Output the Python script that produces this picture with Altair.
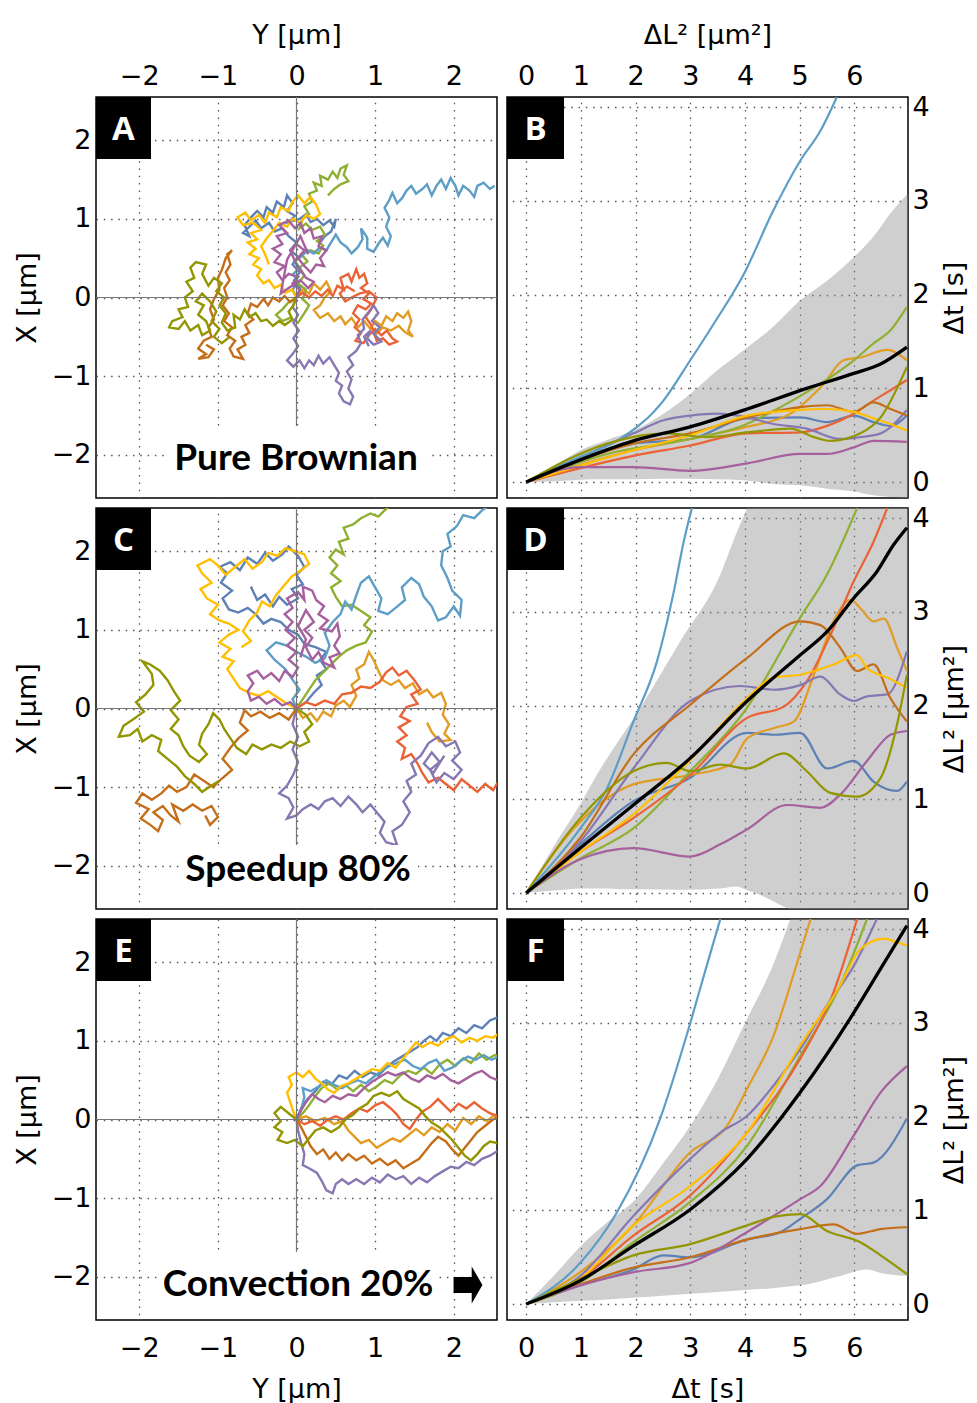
import altair as alt
import pandas as pd

# ---------------- colours (series keys) ----------------
KEYS = ["c1", "c2", "c3", "c4", "c5", "c6", "c7", "c8", "c9", "c10", "mean"]
COLORS = ["#5E81B5", "#E19C24", "#8FB032", "#EB6235", "#8778B3", "#C56E1A",
          "#5D9EC7", "#FFBF00", "#A5609D", "#929600", "#000000"]

# ---------------- tick labels ----------------
L_TICKS = [-2, -1, 0, 1, 2]
R_XTICKS = [0, 1, 2, 3, 4, 5, 6]
R_YTICKS = [0, 1, 2, 3, 4]

# ---------------- Panel A trajectories (Y, X) in µm ----------------
A_c1 = [(0,0),(0.05,0.12),(-0.03,0.22),(0.04,0.32),(-0.05,0.42),(0.02,0.52),(-0.08,0.6),(0.0,0.7),(-0.1,0.78),(-0.18,0.88),(-0.28,0.84),(-0.35,0.95),(-0.45,0.88),(-0.52,0.98),(-0.6,0.9),(-0.68,0.82),(-0.6,0.78),(-0.66,0.92),(-0.58,1.02),(-0.5,1.1),(-0.42,1.02),(-0.38,1.15),(-0.3,1.08),(-0.25,1.22),(-0.16,1.15),(-0.12,1.3),(-0.05,1.2),(-0.12,1.1),(-0.02,1.04),(-0.1,0.96),(0.04,1.0),(0.12,1.06),(0.18,0.96),(0.26,1.0),(0.34,0.92),(0.42,0.98),(0.48,0.9),(0.5,1.0),(0.44,0.84),(0.36,0.78),(0.3,0.7)]
A_c2 = [(0,0),(0.08,0.1),(0.16,0.05),(0.22,0.18),(0.3,0.1),(0.38,0.2),(0.44,0.08),(0.36,0.0),(0.3,-0.1),(0.22,-0.16),(0.3,-0.26),(0.4,-0.2),(0.48,-0.3),(0.56,-0.24),(0.62,-0.34),(0.7,-0.26),(0.78,-0.38),(0.86,-0.3),(0.94,-0.4),(1.0,-0.3),(1.08,-0.36),(1.14,-0.24),(1.22,-0.3),(1.28,-0.2),(1.36,-0.26),(1.42,-0.18),(1.46,-0.3),(1.42,-0.42),(1.48,-0.5),(1.38,-0.44),(1.3,-0.36),(1.2,-0.42),(1.1,-0.38),(1.02,-0.46),(0.94,-0.38)]
A_c3 = [(0,0),(-0.1,-0.06),(-0.18,-0.15),(-0.26,-0.22),(-0.18,-0.3),(-0.08,-0.26),(0.02,-0.32),(0.1,-0.2),(0.16,-0.1),(0.08,-0.02),(0.12,0.1),(0.02,0.18),(0.1,0.28),(0.04,0.38),(0.14,0.46),(0.06,0.55),(0.18,0.6),(0.28,0.56),(0.34,0.66),(0.26,0.72),(0.36,0.8),(0.3,0.9),(0.2,0.86),(0.12,0.94),(0.04,0.88),(0.08,1.0),(0.16,1.06),(0.1,1.16),(0.2,1.22),(0.16,1.32),(0.26,1.36),(0.22,1.46),(0.32,1.42),(0.3,1.55),(0.4,1.5),(0.46,1.6),(0.52,1.52),(0.56,1.64),(0.64,1.68),(0.6,1.56),(0.66,1.48),(0.56,1.44),(0.48,1.38),(0.4,1.3)]
A_c4 = [(0,0),(0.08,0.06),(0.16,0.0),(0.24,0.08),(0.32,0.02),(0.4,0.1),(0.46,0.02),(0.52,0.15),(0.6,0.1),(0.56,0.25),(0.66,0.3),(0.7,0.2),(0.76,0.36),(0.8,0.25),(0.86,0.3),(0.9,0.18),(0.82,0.12),(0.92,0.05),(0.85,-0.02),(0.95,-0.08),(0.88,-0.15),(0.78,-0.1),(0.72,-0.2),(0.8,-0.28),(0.74,-0.38),(0.82,-0.45),(0.75,-0.55),(0.85,-0.58),(0.92,-0.48),(1.0,-0.4),(1.08,-0.48),(1.15,-0.42),(1.22,-0.52),(1.28,-0.56),(1.18,-0.6),(1.1,-0.52),(1.02,-0.55),(0.95,-0.35),(0.88,-0.25),(0.95,-0.15),(1.02,0.0),(0.92,0.08),(0.8,0.05),(0.7,0.0),(0.62,-0.05),(0.55,0.05),(0.64,0.14),(0.74,0.08)]
A_c5 = [(0,0),(-0.05,-0.12),(0.02,-0.22),(-0.04,-0.32),(0.03,-0.42),(-0.04,-0.52),(0.02,-0.62),(-0.05,-0.72),(-0.12,-0.8),(-0.04,-0.88),(0.04,-0.8),(0.1,-0.9),(0.16,-0.8),(0.22,-0.86),(0.28,-0.74),(0.34,-0.84),(0.42,-0.76),(0.48,-0.86),(0.54,-0.96),(0.5,-1.06),(0.58,-1.12),(0.54,-1.22),(0.6,-1.32),(0.68,-1.36),(0.72,-1.26),(0.66,-1.16),(0.7,-1.04),(0.64,-0.94),(0.72,-0.86),(0.66,-0.76),(0.76,-0.68),(0.82,-0.58),(0.78,-0.48),(0.86,-0.4),(0.84,-0.28),(0.92,-0.18),(0.98,-0.1),(1.04,-0.2),(0.96,-0.3),(1.06,-0.38),(0.98,-0.46),(1.08,-0.56),(0.98,-0.6),(0.9,-0.52),(0.94,-0.42),(0.86,-0.5),(0.92,-0.62)]
A_c6 = [(0,0),(-0.08,-0.06),(-0.15,0.02),(-0.22,-0.05),(-0.3,0.0),(-0.36,-0.1),(-0.42,-0.02),(-0.5,-0.12),(-0.58,-0.08),(-0.62,-0.2),(-0.55,-0.28),(-0.65,-0.35),(-0.6,-0.45),(-0.7,-0.5),(-0.65,-0.6),(-0.75,-0.66),(-0.68,-0.78),(-0.8,-0.75),(-0.85,-0.65),(-0.78,-0.55),(-0.88,-0.48),(-0.82,-0.38),(-0.92,-0.3),(-0.86,-0.2),(-0.94,-0.1),(-0.88,0.0),(-0.92,0.12),(-0.85,0.22),(-0.9,0.32),(-0.84,0.42),(-0.88,0.55),(-0.82,0.6),(-0.9,0.5),(-0.95,0.35),(-1.0,0.25),(-0.98,0.1),(-1.05,-0.02),(-1.1,-0.15),(-1.05,-0.28),(-1.12,-0.38),(-1.08,-0.5),(-1.18,-0.55),(-1.25,-0.65),(-1.15,-0.72),(-1.25,-0.78),(-1.12,-0.76),(-1.05,-0.66),(-1.15,-0.6)]
A_c7 = [(0,0),(-0.05,0.1),(0.02,0.2),(-0.04,0.3),(0.04,0.38),(-0.03,0.46),(0.06,0.52),(0.14,0.6),(0.22,0.56),(0.3,0.64),(0.38,0.6),(0.44,0.7),(0.5,0.8),(0.56,0.7),(0.64,0.64),(0.7,0.56),(0.78,0.64),(0.84,0.74),(0.82,0.88),(0.9,0.76),(0.9,0.62),(0.98,0.58),(1.04,0.68),(1.1,0.76),(1.16,0.66),(1.2,0.78),(1.14,0.9),(1.18,1.02),(1.12,1.14),(1.18,1.24),(1.22,1.33),(1.28,1.2),(1.34,1.26),(1.4,1.36),(1.46,1.42),(1.52,1.32),(1.6,1.38),(1.66,1.44),(1.72,1.3),(1.78,1.42),(1.84,1.5),(1.9,1.38),(1.96,1.52),(2.02,1.42),(2.06,1.3),(2.12,1.42),(2.2,1.36),(2.26,1.28),(2.3,1.42),(2.38,1.46),(2.46,1.38),(2.52,1.42)]
A_c8 = [(0,0),(-0.06,0.1),(-0.14,0.06),(-0.2,0.16),(-0.28,0.12),(-0.35,0.22),(-0.42,0.18),(-0.5,0.28),(-0.45,0.36),(-0.55,0.42),(-0.48,0.5),(-0.6,0.55),(-0.52,0.62),(-0.62,0.7),(-0.5,0.74),(-0.58,0.82),(-0.45,0.86),(-0.55,0.95),(-0.68,0.92),(-0.75,1.02),(-0.65,1.08),(-0.58,0.98),(-0.48,1.05),(-0.4,0.95),(-0.35,1.08),(-0.25,1.02),(-0.2,1.15),(-0.1,1.1),(-0.05,1.22),(0.02,1.3),(0.1,1.2),(0.18,1.28),(0.25,1.18),(0.3,1.06),(0.22,1.0),(0.12,1.05),(0.05,0.95),(-0.05,1.0),(-0.12,0.9),(-0.22,0.95),(-0.3,0.85),(-0.38,0.75),(-0.45,0.65),(-0.4,0.55),(-0.35,0.42)]
A_c9 = [(0,0),(0.04,0.1),(-0.05,0.18),(0.02,0.26),(-0.1,0.3),(-0.18,0.22),(-0.25,0.32),(-0.15,0.4),(-0.28,0.45),(-0.2,0.55),(-0.3,0.62),(-0.18,0.68),(-0.25,0.78),(-0.12,0.82),(-0.22,0.92),(-0.1,0.98),(-0.02,0.88),(0.05,0.95),(0.1,0.82),(0.18,0.88),(0.22,0.75),(0.32,0.78),(0.28,0.65),(0.38,0.6),(0.3,0.5),(0.35,0.4),(0.25,0.42),(0.18,0.32),(0.1,0.4),(0.02,0.5),(0.1,0.6),(0.0,0.68),(-0.08,0.6),(0.0,0.42),(0.12,0.25),(0.22,0.2),(0.15,0.12),(0.05,0.22),(-0.1,0.12),(-0.2,0.05),(-0.12,0.48),(0.05,0.78),(0.15,0.55)]
A_c10 = [(0,0),(-0.04,-0.1),(-0.1,-0.18),(-0.05,-0.28),(-0.15,-0.35),(-0.22,-0.3),(-0.3,-0.36),(-0.38,-0.28),(-0.45,-0.3),(-0.52,-0.2),(-0.6,-0.25),(-0.66,-0.15),(-0.72,-0.28),(-0.8,-0.22),(-0.78,-0.38),(-0.88,-0.42),(-0.95,-0.32),(-0.9,-0.2),(-0.98,-0.1),(-0.92,0.0),(-1.02,0.08),(-0.95,0.18),(-1.05,0.25),(-1.12,0.15),(-1.2,0.3),(-1.15,0.42),(-1.28,0.45),(-1.35,0.38),(-1.3,0.25),(-1.4,0.2),(-1.32,0.08),(-1.42,0.0),(-1.38,-0.12),(-1.5,-0.15),(-1.45,-0.25),(-1.58,-0.3),(-1.62,-0.38),(-1.5,-0.4),(-1.42,-0.3),(-1.35,-0.42),(-1.25,-0.35),(-1.2,-0.48),(-1.1,-0.42),(-1.15,-0.3),(-1.25,-0.22),(-1.18,-0.1),(-1.28,-0.05),(-1.2,0.05),(-1.1,-0.05),(-1.02,-0.18),(-1.08,-0.3),(-0.98,-0.4),(-1.05,-0.5),(-0.95,-0.58),(-0.85,-0.5)]

# ---------------- Panel C trajectories ----------------
C_c1 = [(0,0),(0.12,0.08),(0.22,0.2),(0.32,0.3),(0.26,0.42),(0.38,0.5),(0.3,0.62),(0.38,0.72),(0.24,0.78),(0.1,0.82),(0.02,0.94),(-0.1,1.0),(-0.2,1.1),(-0.32,1.14),(-0.42,1.08),(-0.52,1.2),(-0.62,1.28),(-0.74,1.22),(-0.86,1.26),(-0.94,1.4),(-0.82,1.5),(-0.96,1.6),(-0.88,1.72),(-0.98,1.8),(-0.84,1.86),(-0.72,1.76),(-0.62,1.92),(-0.5,1.84),(-0.4,1.98),(-0.3,1.88),(-0.18,1.96),(-0.1,2.06),(0.02,1.94),(0.1,1.8),(0.0,1.7),(0.08,1.58),(-0.06,1.52),(0.02,1.4),(-0.12,1.32),(-0.22,1.42),(-0.3,1.3),(-0.4,1.45),(-0.5,1.38),(-0.58,1.55)]
C_c2 = [(0,0),(0.08,-0.12),(0.18,-0.06),(0.26,-0.16),(0.34,-0.04),(0.44,-0.1),(0.5,0.04),(0.6,0.1),(0.68,0.02),(0.76,0.16),(0.7,0.3),(0.8,0.38),(0.76,0.5),(0.86,0.56),(0.92,0.72),(0.98,0.62),(1.04,0.48),(1.1,0.36),(1.2,0.3),(1.3,0.36),(1.38,0.26),(1.48,0.32),(1.56,0.18),(1.66,0.24),(1.74,0.14),(1.84,0.2),(1.9,0.06),(1.86,-0.08),(1.94,-0.2),(1.88,-0.32),(1.96,-0.4),(1.82,-0.42),(1.72,-0.3),(1.66,-0.18)]
C_c3 = [(0,0),(0.08,0.12),(0.16,0.24),(0.24,0.36),(0.34,0.46),(0.44,0.56),(0.54,0.66),(0.64,0.74),(0.76,0.8),(0.88,0.84),(0.96,0.98),(0.86,1.06),(0.94,1.16),(0.82,1.24),(0.7,1.32),(0.58,1.3),(0.5,1.42),(0.44,1.54),(0.56,1.62),(0.44,1.72),(0.52,1.82),(0.42,1.92),(0.5,2.02),(0.6,1.96),(0.54,2.12),(0.66,2.16),(0.6,2.3),(0.72,2.34),(0.82,2.42),(0.94,2.48),(1.04,2.44),(1.12,2.52),(1.22,2.6)]
C_c4 = [(0,0),(0.12,0.08),(0.24,0.04),(0.36,0.1),(0.48,0.06),(0.58,0.18),(0.7,0.2),(0.82,0.28),(0.94,0.26),(1.06,0.34),(1.14,0.46),(1.22,0.52),(1.3,0.42),(1.4,0.48),(1.5,0.36),(1.58,0.24),(1.46,0.18),(1.54,0.06),(1.4,0.02),(1.32,-0.1),(1.44,-0.16),(1.3,-0.24),(1.4,-0.34),(1.28,-0.42),(1.38,-0.5),(1.34,-0.64),(1.46,-0.58),(1.54,-0.7),(1.6,-0.82),(1.68,-0.94),(1.8,-0.88),(1.9,-0.96),(2.0,-1.04),(2.1,-0.9),(2.2,-0.98),(2.3,-1.06),(2.4,-0.96),(2.5,-1.04),(2.56,-0.94)]
C_c5 = [(0,0),(-0.05,-0.2),(0.02,-0.36),(-0.05,-0.52),(0.02,-0.68),(-0.04,-0.84),(-0.12,-0.98),(-0.22,-1.08),(-0.1,-1.14),(-0.04,-1.26),(-0.12,-1.4),(0.0,-1.36),(0.08,-1.28),(0.18,-1.22),(0.28,-1.28),(0.36,-1.18),(0.46,-1.14),(0.56,-1.24),(0.66,-1.12),(0.76,-1.22),(0.84,-1.32),(0.94,-1.22),(1.02,-1.32),(1.12,-1.44),(1.06,-1.58),(1.14,-1.7),(1.28,-1.74),(1.22,-1.56),(1.34,-1.48),(1.44,-1.32),(1.36,-1.18),(1.46,-1.06),(1.4,-0.92),(1.52,-0.84),(1.46,-0.7),(1.58,-0.6),(1.68,-0.44),(1.8,-0.36),(1.9,-0.48),(2.02,-0.42),(2.08,-0.56),(1.98,-0.66),(2.1,-0.78),(2.0,-0.9),(1.88,-0.82),(1.78,-0.94),(1.7,-0.78),(1.82,-0.68),(1.72,-0.56),(1.62,-0.7),(1.74,-0.82),(1.88,-0.6)]
C_c6 = [(0,0),(-0.1,-0.14),(-0.22,-0.06),(-0.34,-0.12),(-0.46,-0.04),(-0.58,-0.1),(-0.66,-0.02),(-0.72,-0.18),(-0.62,-0.28),(-0.74,-0.38),(-0.84,-0.5),(-0.94,-0.64),(-0.82,-0.78),(-0.96,-0.9),(-1.06,-1.0),(-1.18,-0.92),(-1.3,-0.84),(-1.4,-1.0),(-1.52,-1.06),(-1.62,-0.98),(-1.72,-1.08),(-1.84,-1.16),(-1.96,-1.08),(-2.04,-1.2),(-1.88,-1.28),(-1.98,-1.4),(-1.86,-1.48),(-1.76,-1.56),(-1.7,-1.42),(-1.82,-1.32),(-1.7,-1.24),(-1.6,-1.36),(-1.5,-1.44),(-1.58,-1.22),(-1.44,-1.3),(-1.32,-1.22),(-1.2,-1.3),(-1.08,-1.24),(-1.0,-1.38),(-1.1,-1.48),(-1.16,-1.36)]
C_c7 = [(0,0),(-0.05,0.12),(0.04,0.24),(-0.06,0.38),(-0.14,0.5),(-0.28,0.62),(-0.38,0.74),(-0.26,0.84),(-0.12,0.8),(0.0,0.72),(0.12,0.66),(0.24,0.58),(0.36,0.64),(0.42,0.8),(0.36,0.96),(0.46,1.1),(0.56,1.2),(0.62,1.36),(0.7,1.26),(0.76,1.44),(0.82,1.6),(0.92,1.68),(1.0,1.54),(1.08,1.4),(1.04,1.24),(1.16,1.2),(1.26,1.28),(1.38,1.38),(1.34,1.54),(1.46,1.66),(1.56,1.58),(1.62,1.42),(1.72,1.3),(1.8,1.12),(1.9,1.16),(2.0,1.3),(2.08,1.18),(2.1,1.38),(1.98,1.5),(1.92,1.66),(1.84,1.82),(1.86,2.0),(1.96,2.06),(1.92,2.22),(2.04,2.32),(2.12,2.46),(2.26,2.42),(2.36,2.52),(2.48,2.6)]
C_c8 = [(0,0),(-0.12,0.06),(-0.24,0.14),(-0.36,0.22),(-0.48,0.16),(-0.6,0.2),(-0.72,0.26),(-0.8,0.38),(-0.88,0.5),(-0.8,0.6),(-0.94,0.66),(-0.84,0.76),(-0.98,0.84),(-0.86,0.94),(-0.74,1.0),(-0.86,1.08),(-0.98,1.12),(-1.1,1.2),(-1.0,1.32),(-1.14,1.4),(-1.22,1.52),(-1.08,1.6),(-1.2,1.72),(-1.26,1.82),(-1.1,1.9),(-1.0,1.82),(-0.9,1.7),(-0.78,1.8),(-0.66,1.9),(-0.56,1.78),(-0.44,1.86),(-0.36,1.98),(-0.24,1.94),(-0.14,2.04),(-0.02,2.0),(0.1,1.96),(0.16,1.84),(0.06,1.76),(-0.06,1.68),(-0.16,1.56),(-0.26,1.44),(-0.34,1.3),(-0.44,1.36),(-0.5,1.22),(-0.6,1.12),(-0.68,0.98),(-0.58,0.86),(-0.7,0.78)]
C_c9 = [(0,0),(-0.08,0.08),(-0.18,0.04),(-0.28,0.12),(-0.38,0.06),(-0.48,0.15),(-0.58,0.1),(-0.62,0.22),(-0.55,0.32),(-0.62,0.42),(-0.5,0.48),(-0.42,0.38),(-0.32,0.45),(-0.22,0.35),(-0.15,0.48),(-0.05,0.4),(0.02,0.52),(-0.1,0.62),(0.0,0.72),(-0.12,0.8),(-0.02,0.9),(-0.14,1.0),(-0.05,1.1),(-0.15,1.2),(-0.05,1.28),(-0.12,1.4),(0.02,1.48),(0.1,1.38),(0.08,1.55),(0.2,1.5),(0.25,1.38),(0.35,1.3),(0.28,1.2),(0.4,1.12),(0.3,1.02),(0.45,0.98),(0.52,1.08),(0.55,0.92),(0.48,0.8),(0.55,0.7),(0.42,0.65),(0.48,0.52),(0.35,0.58),(0.28,0.72),(0.2,0.62),(0.12,0.78),(0.2,0.9),(0.1,1.0),(0.22,1.1),(0.12,1.25),(0.02,1.05),(0.12,0.88),(0.05,0.65)]
C_c10 = [(0,0),(0.12,-0.08),(0.2,-0.2),(0.1,-0.3),(0.16,-0.42),(0.04,-0.48),(-0.08,-0.42),(-0.2,-0.5),(-0.32,-0.46),(-0.44,-0.52),(-0.56,-0.46),(-0.64,-0.58),(-0.76,-0.5),(-0.84,-0.38),(-0.92,-0.26),(-0.98,-0.14),(-1.06,-0.06),(-1.12,-0.2),(-1.2,-0.32),(-1.24,-0.46),(-1.14,-0.58),(-1.24,-0.68),(-1.36,-0.6),(-1.44,-0.48),(-1.5,-0.34),(-1.6,-0.26),(-1.5,-0.14),(-1.6,-0.02),(-1.48,0.1),(-1.56,0.22),(-1.64,0.36),(-1.74,0.48),(-1.86,0.56),(-1.96,0.6),(-1.84,0.44),(-1.82,0.3),(-1.92,0.18),(-2.04,0.08),(-1.94,-0.04),(-2.08,-0.14),(-2.2,-0.22),(-2.26,-0.36),(-2.12,-0.34),(-2.02,-0.26),(-1.96,-0.42),(-1.84,-0.34),(-1.72,-0.4),(-1.76,-0.54),(-1.64,-0.64),(-1.52,-0.74),(-1.42,-0.86),(-1.3,-0.96),(-1.2,-1.06),(-1.08,-0.98),(-0.98,-0.92)]

# ---------------- Panel E trajectories ----------------
E_c1 = [(0,0),(0.06,0.14),(0.14,0.26),(0.24,0.36),(0.34,0.48),(0.44,0.44),(0.54,0.56),(0.64,0.52),(0.74,0.62),(0.84,0.54),(0.94,0.6),(1.04,0.56),(1.14,0.66),(1.24,0.74),(1.34,0.8),(1.44,0.86),(1.54,0.92),(1.62,1.0),(1.7,1.06),(1.78,1.0),(1.86,1.1),(1.96,1.06),(2.06,1.16),(2.16,1.1),(2.26,1.2),(2.36,1.16),(2.46,1.26),(2.56,1.3)]
E_c2 = [(0,0),(0.12,0.04),(0.24,-0.02),(0.36,0.02),(0.48,-0.06),(0.58,-0.02),(0.66,-0.14),(0.74,-0.22),(0.82,-0.3),(0.92,-0.26),(1.02,-0.36),(1.12,-0.3),(1.22,-0.24),(1.32,-0.28),(1.42,-0.2),(1.52,-0.12),(1.62,-0.2),(1.72,-0.1),(1.82,-0.16),(1.92,-0.06),(2.02,-0.14),(2.12,0.02),(2.22,-0.06),(2.32,0.04),(2.42,-0.02),(2.52,0.06),(2.6,0.0)]
E_c3 = [(0,0),(0.08,0.08),(0.16,0.18),(0.24,0.3),(0.32,0.4),(0.42,0.46),(0.52,0.38),(0.62,0.44),(0.72,0.36),(0.82,0.44),(0.92,0.36),(1.02,0.42),(1.12,0.5),(1.22,0.46),(1.32,0.56),(1.42,0.62),(1.52,0.58),(1.62,0.66),(1.72,0.58),(1.82,0.7),(1.92,0.76),(2.02,0.68),(2.12,0.78),(2.22,0.72),(2.32,0.84),(2.42,0.76),(2.52,0.82),(2.6,0.78)]
E_c4 = [(0,0),(0.1,-0.06),(0.2,-0.02),(0.3,-0.08),(0.4,0.0),(0.5,0.04),(0.6,0.0),(0.7,0.08),(0.8,0.14),(0.9,0.1),(1.0,0.18),(1.1,0.22),(1.2,0.14),(1.28,0.06),(1.36,-0.06),(1.44,-0.12),(1.52,0.0),(1.6,0.1),(1.7,0.16),(1.8,0.26),(1.88,0.18),(1.96,0.1),(2.06,0.2),(2.16,0.14),(2.26,0.22),(2.36,0.14),(2.46,0.08),(2.56,0.04)]
E_c5 = [(0,0),(0.02,-0.14),(0.06,-0.3),(0.1,-0.44),(0.08,-0.58),(0.16,-0.62),(0.26,-0.68),(0.32,-0.78),(0.38,-0.9),(0.46,-0.94),(0.5,-0.82),(0.58,-0.76),(0.66,-0.82),(0.76,-0.76),(0.86,-0.82),(0.96,-0.74),(1.06,-0.8),(1.16,-0.7),(1.26,-0.76),(1.36,-0.72),(1.46,-0.82),(1.56,-0.74),(1.66,-0.8),(1.76,-0.72),(1.86,-0.66),(1.96,-0.6),(2.06,-0.62),(2.16,-0.54),(2.26,-0.58),(2.36,-0.5),(2.46,-0.46),(2.56,-0.4)]
E_c6 = [(0,0),(0.06,-0.1),(0.12,-0.22),(0.18,-0.34),(0.26,-0.44),(0.34,-0.38),(0.42,-0.5),(0.5,-0.42),(0.58,-0.52),(0.66,-0.44),(0.76,-0.52),(0.86,-0.46),(0.96,-0.56),(1.06,-0.5),(1.16,-0.58),(1.26,-0.52),(1.36,-0.62),(1.46,-0.56),(1.56,-0.5),(1.64,-0.4),(1.72,-0.3),(1.8,-0.22),(1.9,-0.28),(1.98,-0.38),(2.06,-0.46),(2.14,-0.36),(2.22,-0.26),(2.3,-0.16),(2.4,-0.08),(2.5,0.0),(2.6,0.06)]
E_c7 = [(0,0),(0.06,0.14),(0.1,0.28),(0.08,0.4),(0.18,0.36),(0.28,0.42),(0.38,0.5),(0.48,0.44),(0.58,0.4),(0.68,0.46),(0.78,0.5),(0.88,0.46),(0.98,0.54),(1.08,0.62),(1.18,0.68),(1.28,0.72),(1.38,0.76),(1.48,0.68),(1.58,0.64),(1.68,0.72),(1.78,0.76),(1.88,0.62),(1.98,0.66),(2.08,0.74),(2.18,0.8),(2.28,0.76),(2.38,0.82),(2.48,0.76),(2.58,0.8)]
E_c8 = [(0,0),(-0.04,0.1),(-0.08,0.22),(-0.12,0.34),(-0.06,0.44),(-0.1,0.54),(0.0,0.6),(0.08,0.54),(0.16,0.62),(0.24,0.52),(0.32,0.46),(0.4,0.38),(0.48,0.34),(0.56,0.42),(0.66,0.46),(0.76,0.52),(0.86,0.58),(0.96,0.64),(1.06,0.62),(1.16,0.72),(1.26,0.66),(1.36,0.78),(1.44,0.88),(1.52,0.98),(1.6,0.92),(1.7,0.98),(1.8,0.94),(1.9,1.02),(2.0,1.06),(2.1,0.98),(2.2,1.04),(2.3,1.0),(2.4,1.06),(2.5,1.04),(2.58,1.1)]
E_c9 = [(0,0),(0.06,0.12),(0.12,0.22),(0.2,0.32),(0.28,0.26),(0.36,0.22),(0.46,0.3),(0.56,0.26),(0.66,0.32),(0.76,0.3),(0.86,0.4),(0.96,0.48),(1.06,0.54),(1.16,0.6),(1.26,0.56),(1.36,0.6),(1.46,0.52),(1.56,0.48),(1.66,0.56),(1.76,0.52),(1.86,0.58),(1.96,0.5),(2.06,0.46),(2.16,0.52),(2.26,0.58),(2.36,0.62),(2.46,0.54),(2.56,0.5)]
E_c10 = [(0,0),(-0.1,0.08),(-0.2,0.16),(-0.28,0.08),(-0.2,-0.02),(-0.28,-0.1),(-0.18,-0.16),(-0.24,-0.26),(-0.12,-0.3),(-0.02,-0.26),(0.08,-0.34),(0.16,-0.24),(0.24,-0.14),(0.34,-0.1),(0.44,-0.16),(0.54,-0.1),(0.62,0.0),(0.72,0.06),(0.8,0.14),(0.9,0.2),(0.98,0.3),(1.08,0.34),(1.18,0.3),(1.28,0.36),(1.36,0.26),(1.46,0.2),(1.56,0.14),(1.64,0.04),(1.72,-0.04),(1.82,-0.1),(1.9,-0.18),(1.98,-0.26),(2.06,-0.36),(2.14,-0.46),(2.22,-0.52),(2.3,-0.44),(2.38,-0.34),(2.46,-0.28),(2.56,-0.3)]

# ---------------- Panel B curves (Δt, ΔL²) ----------------
B_c1 = [(0,0),(1.96,0.41),(3.0,0.46),(4.04,0.68),(5.01,0.69),(5.5,0.64),(5.99,0.71),(6.35,0.64),(6.66,0.6),(6.96,0.71)]
B_c2 = [(0,0),(1.96,0.34),(3.0,0.46),(4.04,0.59),(4.83,0.73),(5.44,1.05),(5.8,1.3),(6.11,1.33),(6.6,1.41),(6.96,1.3)]
B_c3 = [(0,0),(1.48,0.3),(3.0,0.46),(3.91,0.59),(4.65,0.8),(5.38,1.05),(5.99,1.3),(6.35,1.48),(6.66,1.62),(6.96,1.87)]
B_c4 = [(0,0),(1.96,0.28),(3.0,0.39),(4.04,0.52),(5.01,0.53),(5.5,0.6),(5.99,0.73),(6.35,0.87),(6.66,0.98),(6.96,1.09)]
B_c5 = [(0,0),(0.87,0.23),(1.96,0.52),(2.51,0.66),(3.0,0.71),(3.49,0.73),(4.04,0.69),(4.52,0.62),(5.13,0.57),(5.74,0.46),(6.11,0.48),(6.48,0.52),(6.96,0.77)]
B_c6 = [(0,0),(1.96,0.41),(3.0,0.52),(4.04,0.69),(5.01,0.8),(5.5,0.82),(5.99,0.75),(6.35,0.85),(6.66,0.78),(6.96,0.71)]
B_c7 = [(0,0),(0.56,0.16),(0.99,0.27),(1.66,0.44),(2.51,0.87),(3.0,1.3),(3.43,1.69),(3.98,2.22),(4.52,2.9),(5.01,3.43),(5.38,3.75),(5.68,4.11)]
B_c8 = [(0,0),(1.96,0.34),(3.0,0.5),(4.04,0.71),(5.01,0.77),(5.5,0.78),(5.99,0.75),(6.35,0.68),(6.66,0.62),(6.96,0.55)]
B_c9 = [(0,0),(0.99,0.16),(1.96,0.16),(3.0,0.12),(4.04,0.2),(5.01,0.3),(5.5,0.3),(5.99,0.37),(6.35,0.44),(6.96,0.43)]
B_c10 = [(0,0),(0.87,0.27),(1.48,0.41),(2.57,0.52),(3.3,0.48),(4.04,0.53),(4.83,0.57),(5.26,0.48),(5.56,0.44),(6.11,0.52),(6.48,0.69),(6.96,1.23)]
B_mean = [(0,0),(0.87,0.21),(1.96,0.44),(3.0,0.59),(4.04,0.78),(5.13,1.0),(5.99,1.16),(6.48,1.26),(6.96,1.44)]
B_band_t = [0, 0.56, 0.99, 1.48, 1.96, 2.51, 3.0, 3.49, 3.98, 4.52, 5.01, 5.5, 5.99, 6.35, 6.66, 6.98]
B_band_hi = [0, 0.19, 0.34, 0.45, 0.55, 0.73, 0.94, 1.19, 1.41, 1.66, 1.94, 2.15, 2.4, 2.62, 2.87, 3.08]
B_band_lo = [0, 0.01, 0.025, 0.03, 0.03, 0.035, 0.035, 0.03, 0.02, -0.02, -0.035, -0.07, -0.1, -0.14, -0.16, -0.17]

# ---------------- Panel D curves ----------------
D_c1 = [(0,0),(0.99,0.52),(1.96,0.98),(3.0,1.23),(4.04,1.71),(4.52,1.69),(5.01,1.71),(5.5,1.33),(5.99,1.41),(6.35,1.19),(6.78,1.09),(6.96,1.19)]
D_c2 = [(0,0),(0.87,0.69),(1.96,1.16),(3.0,1.26),(3.73,1.37),(4.04,1.65),(4.52,1.76),(4.89,1.83),(5.26,2.33),(5.62,2.9),(5.93,3.13),(6.11,3.04),(6.35,2.9),(6.54,2.93),(6.78,2.62),(6.96,2.37)]
D_c3 = [(0,0),(0.99,0.37),(1.96,0.69),(3.0,1.3),(4.04,1.98),(5.01,2.94),(5.5,3.4),(6.05,4.11)]
D_c4 = [(0,0),(0.99,0.44),(1.96,0.8),(3.0,1.26),(4.04,1.87),(4.71,1.99),(5.13,2.26),(5.62,2.83),(5.99,3.33),(6.35,3.75),(6.6,4.11)]
D_c5 = [(0,0),(0.99,0.55),(1.96,1.33),(3.0,2.05),(3.91,2.21),(4.52,2.17),(5.01,2.22),(5.38,2.31),(5.74,2.12),(5.99,2.05),(6.23,2.1),(6.6,2.12),(6.96,2.58)]
D_c6 = [(0,0),(0.99,0.59),(1.96,1.48),(3.0,2.01),(4.04,2.51),(5.01,2.9),(5.38,2.86),(5.74,2.62),(6.05,2.37),(6.35,2.44),(6.66,2.08),(6.96,1.83)]
D_c7 = [(0,0),(0.99,0.69),(1.48,1.12),(1.96,1.83),(2.39,2.47),(2.7,3.22),(2.88,3.75),(3.03,4.11)]
D_c8 = [(0,0),(0.99,0.44),(1.96,0.84),(3.0,1.42),(4.04,2.08),(4.52,2.3),(5.01,2.33),(5.62,2.44),(6.05,2.54),(6.23,2.4),(6.6,2.3),(6.96,2.19)]
D_c9 = [(0,0),(0.99,0.36),(1.96,0.48),(3.0,0.39),(3.55,0.52),(4.04,0.68),(4.77,0.94),(5.38,0.91),(5.74,1.05),(6.23,1.41),(6.66,1.69),(6.96,1.73)]
D_c10 = [(0,0),(0.99,0.8),(1.96,1.3),(2.57,1.39),(3.0,1.3),(3.55,1.37),(4.04,1.33),(4.71,1.49),(5.13,1.3),(5.56,1.07),(6.05,1.03),(6.48,1.23),(6.78,1.8),(6.96,2.33)]
D_mean = [(0,0),(0.99,0.48),(1.96,0.94),(3.0,1.44),(4.04,2.05),(5.01,2.54),(5.5,2.79),(5.99,3.15),(6.41,3.43),(6.72,3.72),(6.96,3.9)]
D_band_t = [0, 0.56, 0.99, 1.29, 2.08, 2.82, 3.55, 3.85, 4.04, 4.28, 4.77, 5.5, 6.98]
D_band_hi = [0, 0.55, 0.95, 1.26, 1.97, 2.69, 3.4, 3.85, 4.11, 4.4, 4.9, 5.2, 5.5]
D_band_lo = [0, 0.03, 0.05, 0.05, 0.04, 0.035, 0.05, 0.07, 0.03, -0.02, -0.16, -0.3, -0.5]

# ---------------- Panel F curves ----------------
F_c1 = [(0,0),(0.99,0.2),(1.96,0.37),(2.51,0.52),(3.0,0.5),(4.04,0.69),(4.65,0.77),(5.01,0.91),(5.5,1.12),(6.05,1.48),(6.35,1.51),(6.96,1.98)]
F_c2 = [(0,0),(0.99,0.34),(1.96,0.84),(3.0,1.62),(3.67,1.9),(4.04,2.3),(4.52,2.86),(5.01,3.75),(5.2,4.11)]
F_c3 = [(0,0),(0.99,0.23),(1.96,0.66),(3.0,1.09),(4.04,1.69),(5.01,2.65),(5.74,3.4),(6.23,4.11)]
F_c4 = [(0,0),(0.99,0.27),(1.96,0.73),(3.0,1.16),(4.04,1.83),(5.01,2.62),(5.62,3.33),(6.05,4.11)]
F_c5 = [(0,0),(0.99,0.3),(1.96,0.94),(3.0,1.55),(3.55,1.83),(4.04,2.01),(4.52,2.33),(5.01,2.72),(5.5,3.19),(5.99,3.61),(6.41,4.11)]
F_c6 = [(0,0),(0.99,0.21),(1.96,0.39),(3.0,0.5),(4.04,0.69),(5.01,0.8),(5.62,0.85),(6.05,0.75),(6.48,0.8),(6.96,0.82)]
F_c7 = [(0,0),(0.99,0.44),(1.66,0.98),(2.45,1.98),(3.0,3.0),(3.3,3.61),(3.55,4.11)]
F_c8 = [(0,0),(0.99,0.27),(1.96,0.84),(3.0,1.26),(4.04,1.83),(5.01,2.76),(5.74,3.4),(6.11,3.79),(6.54,3.9),(6.78,3.86),(6.96,3.83)]
F_c9 = [(0,0),(0.99,0.2),(1.96,0.34),(3.0,0.44),(4.04,0.77),(5.01,1.12),(5.38,1.26),(5.99,1.8),(6.48,2.26),(6.96,2.54)]
F_c10 = [(0,0),(0.99,0.27),(1.96,0.52),(3.0,0.64),(4.04,0.84),(4.52,0.93),(5.01,0.96),(5.5,0.78),(6.11,0.66),(6.48,0.52),(6.96,0.32)]
F_mean = [(0,0),(0.99,0.25),(1.96,0.62),(3.0,1.01),(4.04,1.55),(5.01,2.26),(5.99,3.11),(6.48,3.58),(6.96,4.04)]
F_band_t = [0, 0.5, 1.0, 1.5, 2.0, 2.5, 3.0, 3.5, 4.0, 4.5, 4.83, 5.01, 5.74, 6.23, 6.5, 6.98]
F_band_hi = [0, 0.3, 0.62, 0.88, 1.12, 1.5, 1.9, 2.4, 3.0, 3.6, 4.11, 4.4, 5.0, 5.4, 5.6, 5.9]
F_band_lo = [0, 0.02, 0.035, 0.05, 0.07, 0.09, 0.11, 0.13, 0.15, 0.17, 0.19, 0.2, 0.3, 0.37, 0.33, 0.3]

FONT = "DejaVu Sans"
LDOM = [-2.55, 2.55]
RXDOM = [-0.35, 6.98]
RYDOM = [-0.17, 4.11]
PW, PH = 401, 401
ARROW = "M-0.78,-0.43 L0.2,-0.43 L0.2,-1 L0.78,0 L0.2,1 L0.2,0.43 L-0.78,0.43 Z"

one = pd.DataFrame({"v": [0.0]})
cscale = alt.Scale(domain=KEYS, range=COLORS)


def pts_df(named, xname, yname):
    rows = []
    for key, pts in named:
        for i, (a, b) in enumerate(pts):
            rows.append({"c": key, "i": i, xname: a, yname: b})
    return pd.DataFrame(rows)


def label_layers(letter, box_w):
    box = alt.Chart(one).mark_rect(color="black").encode(
        x=alt.value(0), x2=alt.value(box_w), y=alt.value(0), y2=alt.value(62))
    txt = alt.Chart(one).mark_text(text=letter, font="Open Sans", fontWeight="bold",
                                   fontSize=33, color="white", align="center",
                                   baseline="middle").encode(
        x=alt.value(box_w / 2), y=alt.value(33))
    return [box, txt]


def left_panel(letter, trajs, caption, rect, line_end, xorient, arrow=False):
    df = pts_df(trajs, "x", "y")
    xs = alt.Scale(domain=LDOM, nice=False, zero=False)
    ys = alt.Scale(domain=LDOM, nice=False, zero=False)
    if xorient == "top":
        xaxis = alt.Axis(values=L_TICKS, orient="top", title="Y [μm]",
                         labelPadding=7, titlePadding=13)
    elif xorient == "bottom":
        xaxis = alt.Axis(values=L_TICKS, orient="bottom", title="Y [μm]",
                         labelPadding=15, titlePadding=15)
    else:
        xaxis = alt.Axis(values=L_TICKS, orient="top", labels=False, title="")
    yaxis = alt.Axis(values=L_TICKS, orient="left", title="X [μm]",
                     labelPadding=5, titlePadding=10)
    X = lambda f: alt.X(f, scale=xs, axis=xaxis)
    Y = lambda f: alt.Y(f, scale=ys, axis=yaxis)
    vrule = alt.Chart(one).mark_rule(color="#777", strokeWidth=1.2).encode(
        x=X("v:Q"), y=alt.value(0), y2=alt.value(line_end))
    hrule = alt.Chart(one).mark_rule(color="#777", strokeWidth=1.2).encode(
        y=Y("v:Q"))
    white = alt.Chart(one).mark_rect(color="white").encode(
        x=alt.value(rect[0]), x2=alt.value(rect[1]), y=alt.value(rect[2]), y2=alt.value(rect[3]))
    lines = alt.Chart(df).mark_line(strokeWidth=2.4, clip=True, strokeJoin="miter").encode(
        x=X("x:Q"), y=Y("y:Q"),
        color=alt.Color("c:N", scale=cscale, legend=None),
        detail="c:N",
        order=alt.Order("i:Q"))
    cap = alt.Chart(one).mark_text(text=caption, font="Lato", fontWeight="bold",
                                   fontSize=37, color="black", align="center",
                                   baseline="alphabetic").encode(
        x=alt.value(rect[4]), y=alt.value(rect[5]))
    layers = [lines, vrule, hrule, white, cap]
    if arrow:
        layers.append(alt.Chart(one).mark_point(shape=ARROW, size=1369, filled=True,
                                                 color="black", opacity=1,
                                                 strokeWidth=0).encode(
            x=alt.value(372), y=alt.value(366)))
    layers += label_layers(letter, 55)
    return alt.layer(*layers).properties(width=PW, height=PH)


def right_panel(letter, curves, mean, band, xorient, ytitle):
    df = pts_df(curves, "t", "v")
    mdf = pts_df([("mean", mean)], "t", "v")
    bdf = pd.DataFrame({"t": band[0], "hi": band[1], "lo": band[2]})
    xs = alt.Scale(domain=RXDOM, nice=False, zero=False)
    ys = alt.Scale(domain=RYDOM, nice=False, zero=False)
    if xorient == "top":
        xaxis = alt.Axis(values=R_XTICKS, orient="top", title="ΔL² [μm²]",
                         labelPadding=7, titlePadding=13)
    elif xorient == "bottom":
        xaxis = alt.Axis(values=R_XTICKS, orient="bottom", title="Δt [s]",
                         labelPadding=15, titlePadding=15)
    else:
        xaxis = alt.Axis(values=R_XTICKS, orient="top", labels=False, title="")
    yaxis = alt.Axis(values=R_YTICKS, orient="right", title=ytitle,
                     titleAngle=270, titleBaseline="top", labelPadding=4, titlePadding=12)
    X = lambda f: alt.X(f, scale=xs, axis=xaxis)
    Y = lambda f: alt.Y(f, scale=ys, axis=yaxis)
    area = alt.Chart(bdf).mark_area(color="#8c8c8c", opacity=0.42, clip=True,
                                    interpolate="monotone").encode(
        x=X("t:Q"), y=Y("hi:Q"), y2="lo:Q")
    lines = alt.Chart(df).mark_line(strokeWidth=2.2, clip=True, interpolate="monotone").encode(
        x=X("t:Q"), y=Y("v:Q"),
        color=alt.Color("c:N", scale=cscale, legend=None),
        detail="c:N",
        order=alt.Order("i:Q"))
    mline = alt.Chart(mdf).mark_line(strokeWidth=3.3, clip=True, color="black",
                                      interpolate="monotone").encode(
        x=X("t:Q"), y=Y("v:Q"), order=alt.Order("i:Q"))
    layers = [area, lines, mline] + label_layers(letter, 57)
    return alt.layer(*layers).properties(width=PW, height=PH)


def named(prefix, g):
    return [("c%d" % k, g["%s_c%d" % (prefix, k)]) for k in range(1, 11)]


G = globals()
pA = left_panel("A", named("A", G), "Pure Brownian", (72, 332, 329, 400, 200, 373), 329, "top")
pC = left_panel("C", named("C", G), "Speedup 80%", (85, 322, 337, 400, 202, 373), 337, None)
pE = left_panel("E", named("E", G), "Convection 20%", (66, 342, 333, 400, 202, 377), 333, "bottom", arrow=True)
pB = right_panel("B", named("B", G), B_mean, (B_band_t, B_band_hi, B_band_lo), "top", "Δt [s]")
pD = right_panel("D", named("D", G), D_mean, (D_band_t, D_band_hi, D_band_lo), None, "ΔL² [μm²]")
pF = right_panel("F", named("F", G), F_mean, (F_band_t, F_band_hi, F_band_lo), "bottom", "ΔL² [μm²]")

chart = alt.concat(pA, pB, pC, pD, pE, pF, columns=2, spacing=10, bounds="flush").properties(
    padding={"left": 12, "top": 20, "right": 4, "bottom": 4}
).configure_axis(
    labelFont=FONT, labelFontSize=27, labelColor="black",
    titleFont=FONT, titleFontSize=27, titleFontWeight="normal", titleColor="black",
    domain=False, ticks=False, grid=True, gridColor="#555", gridDash=[1.5, 5.8],
    gridWidth=1.3, gridOpacity=1, labelFlush=False, labelOverlap=False
).configure_view(stroke="black", strokeWidth=1.5)

chart.save("out.html", embed_options={"renderer": "svg", "actions": False})
